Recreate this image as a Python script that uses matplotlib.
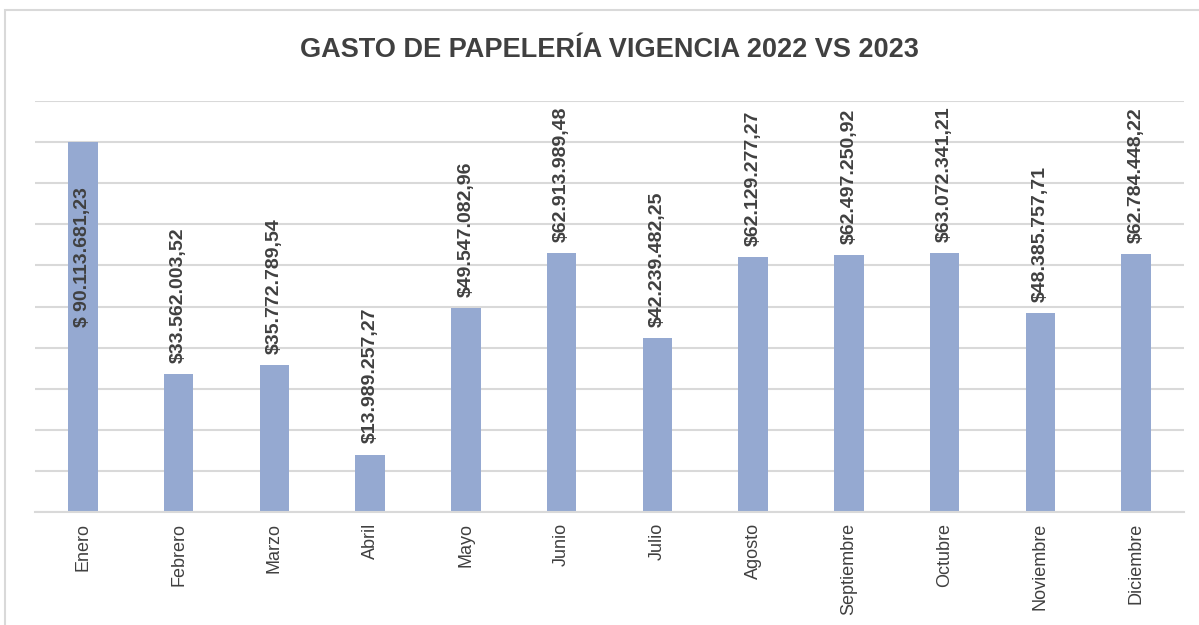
import matplotlib
matplotlib.use("Agg")
import matplotlib.pyplot as plt
from matplotlib.patches import Rectangle

meses = ["Enero", "Febrero", "Marzo", "Abril", "Mayo", "Junio", "Julio",
         "Agosto", "Septiembre", "Octubre", "Noviembre", "Diciembre"]
gasto = [90113681.23, 33562003.52, 35772789.54, 13989257.27, 49547082.96,
         62913989.48, 42239482.25, 62129277.27, 62497250.92, 63072341.21,
         48385757.71, 62784448.22]
etiquetas = ["$ 90.113.681,23", "$33.562.003,52", "$35.772.789,54",
             "$13.989.257,27", "$49.547.082,96", "$62.913.989,48",
             "$42.239.482,25", "$62.129.277,27", "$62.497.250,92",
             "$63.072.341,21", "$48.385.757,71", "$62.784.448,22"]

fuente = ["Liberation Sans Narrow", "Liberation Sans", "DejaVu Sans"]
plt.rcParams["font.family"] = fuente
gris = "#404040"

fig = plt.figure(figsize=(11.99, 6.25), dpi=100)
ax = fig.add_axes([35 / 1199, 1 - 512 / 625, 1149 / 1199, 411 / 625])

x = range(len(meses))
ax.bar(x, gasto, width=0.31, color="#95A9D1", zorder=2)

for i, (v, t) in enumerate(zip(gasto, etiquetas)):
    if i == 0:
        ax.text(i, v - 11e6, t, rotation=90, ha="center", va="top",
                fontsize=14, fontweight="bold", color=gris, zorder=3)
    else:
        ax.text(i, v + 2.7e6, t, rotation=90, ha="center", va="bottom",
                fontsize=14, fontweight="bold", color=gris, zorder=3)

ax.set_ylim(0, 100e6)
ax.set_xlim(-0.5, len(meses) - 0.5)
ax.set_yticks([k * 10e6 for k in range(11)])
ax.yaxis.grid(True, color="#D9D9D9", linewidth=1.5, zorder=0)
ax.tick_params(axis="y", left=False, labelleft=False)
ax.tick_params(axis="x", length=0, pad=8)
ax.set_xticks(list(x))
ax.set_xticklabels(meses, rotation=90, fontsize=13, color=gris)
for s in ["top", "right", "left"]:
    ax.spines[s].set_visible(False)
ax.spines["bottom"].set_color("#D9D9D9")
ax.spines["bottom"].set_linewidth(1.5)

fig.text(0.508, 1 - 50 / 625, "GASTO DE PAPELERÍA VIGENCIA 2022 VS 2023",
         ha="center", va="center", fontsize=19.5, fontweight="bold", color=gris)

fig.patches.append(Rectangle((5 / 1199, -0.05), 1.2, 1 - 10 / 625 + 0.05,
                             transform=fig.transFigure, fill=False,
                             edgecolor="#D9D9D9", linewidth=1.5))

fig.savefig("out.png", dpi=100)
